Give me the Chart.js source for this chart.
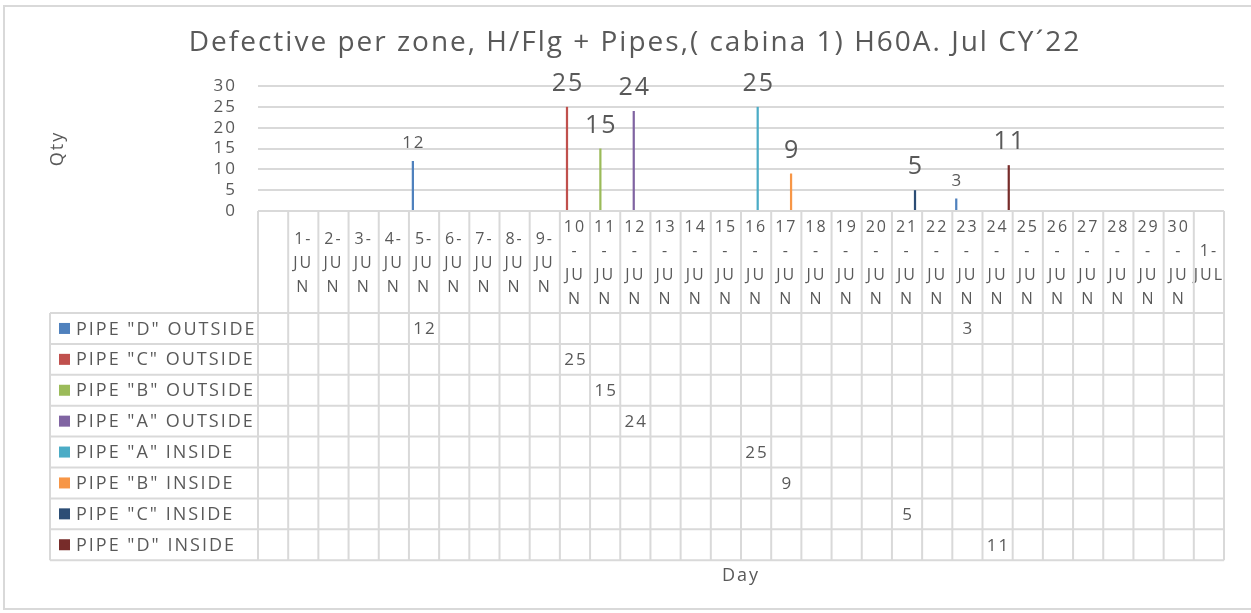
<!DOCTYPE html>
<html>
<head>
<meta charset="utf-8">
<title>Defective per zone</title>
<script src="https://cdn.jsdelivr.net/npm/chart.js@4.4.1/dist/chart.umd.min.js"></script>
<style>
  html, body { margin: 0; padding: 0; background: #fff; }
  #wrap { width: 1251px; height: 613px; }
</style>
</head>
<body>
<div id="wrap"><canvas id="defectChart" width="1251" height="613"></canvas></div>
<script>
// categories (first column is an empty one, as in the sheet)
const days = ['', '1-Jun', '2-Jun', '3-Jun', '4-Jun', '5-Jun', '6-Jun', '7-Jun', '8-Jun', '9-Jun',
  '10-Jun', '11-Jun', '12-Jun', '13-Jun', '14-Jun', '15-Jun', '16-Jun', '17-Jun', '18-Jun', '19-Jun',
  '20-Jun', '21-Jun', '22-Jun', '23-Jun', '24-Jun', '25-Jun', '26-Jun', '27-Jun', '28-Jun', '29-Jun',
  '30-Jun', '1-Jul'];

// series values (only the days with defects)
const pipeDOutside = [{ x: '5-Jun', y: 12 }, { x: '23-Jun', y: 3 }];
const pipeCOutside = [{ x: '10-Jun', y: 25 }];
const pipeBOutside = [{ x: '11-Jun', y: 15 }];
const pipeAOutside = [{ x: '12-Jun', y: 24 }];
const pipeAInside = [{ x: '16-Jun', y: 25 }];
const pipeBInside = [{ x: '17-Jun', y: 9 }];
const pipeCInside = [{ x: '21-Jun', y: 5 }];
const pipeDInside = [{ x: '24-Jun', y: 11 }];

const seriesNames = ['PIPE "D" OUTSIDE', 'PIPE "C" OUTSIDE', 'PIPE "B" OUTSIDE', 'PIPE "A" OUTSIDE',
  'PIPE "A" INSIDE', 'PIPE "B" INSIDE', 'PIPE "C" INSIDE', 'PIPE "D" INSIDE'];
const yTicks = [0, 5, 10, 15, 20, 25, 30];

const FONT = "'Open Sans', 'Noto Sans', sans-serif";
const TEXT = '#595959';
const LINE = '#d9d9d9';

// Excel 2010 palette
const colors = ['#4F81BD', '#C0504D', '#9BBB59', '#8064A2', '#4BACC6', '#F79646', '#2C4D75', '#772C2A'];
const labelSizes = [17, 25, 25, 25, 25, 25, 25, 25];
const seriesData = [pipeDOutside, pipeCOutside, pipeBOutside, pipeAOutside, pipeAInside, pipeBInside, pipeCInside, pipeDInside];

// split "10-Jun" the way the narrow cells wrap it
function wrapDay(s) {
  if (!s) return '';
  const [d, m] = s.split('-');
  if (m === 'Jul') return [d + '-', 'JUL'];
  return d.length > 1 ? [d, '-', 'JU', 'N'] : [d + '-', 'JU', 'N'];
}

// the original picture is a bit stretched, so widen all text slightly
const spacingPlugin = {
  id: 'spacing',
  beforeDraw(chart) {
    chart.ctx.letterSpacing = '2px';
  }
};

// data table under the axis + value labels above bars + outer frame
const tablePlugin = {
  id: 'dataTable',
  afterDraw(chart) {
    const { ctx, chartArea: a, scales: { x } } = chart;
    const colW = (x.right - x.left) / days.length;
    const headTop = a.bottom;
    const headBottom = a.bottom + 102;
    const rowH = 30.9;
    const legendLeft = 50;
    const tableBottom = headBottom + rowH * seriesNames.length;

    ctx.save();
    ctx.strokeStyle = LINE;
    ctx.lineWidth = 2;
    ctx.beginPath();
    for (let k = 0; k <= days.length; k++) {
      const px = x.left + k * colW;
      ctx.moveTo(px, headTop);
      ctx.lineTo(px, tableBottom);
    }
    for (let r = 0; r <= seriesNames.length; r++) {
      const py = headBottom + r * rowH;
      ctx.moveTo(legendLeft, py);
      ctx.lineTo(x.right, py);
    }
    ctx.moveTo(legendLeft, headBottom);
    ctx.lineTo(legendLeft, tableBottom);
    ctx.stroke();

    // legend keys and table values
    ctx.textBaseline = 'middle';
    ctx.font = '18px ' + FONT;
    seriesNames.forEach((name, i) => {
      const cy = headBottom + (i + 0.5) * rowH;
      ctx.fillStyle = colors[i];
      ctx.fillRect(59, cy - 5.5, 11, 11);
      ctx.fillStyle = TEXT;
      ctx.textAlign = 'left';
      ctx.fillText(name, 76, cy + 1);
      ctx.textAlign = 'center';
      ctx.font = '17px ' + FONT;
      seriesData[i].forEach(pt => {
        ctx.fillText(String(pt.y), x.getPixelForValue(days.indexOf(pt.x)) + 1, cy + 1);
      });
      ctx.font = '18px ' + FONT;
    });

    // labels above the bars
    ctx.textBaseline = 'alphabetic';
    chart.data.datasets.forEach((ds, i) => {
      const meta = chart.getDatasetMeta(i);
      ctx.font = labelSizes[i] + 'px ' + FONT;
      ctx.fillStyle = TEXT;
      meta.data.forEach((bar, j) => {
        const v = ds.data[j].y;
        ctx.fillText(String(v), bar.x + 1, bar.y - (labelSizes[i] > 20 ? 16 : 13));
      });
    });

    // chart frame
    ctx.strokeStyle = LINE;
    ctx.lineWidth = 2;
    ctx.strokeRect(4, 6, 1262, 603);
    ctx.restore();
  }
};

const ctx = document.getElementById('defectChart').getContext('2d');

const defectChart = new Chart(ctx, {
  type: 'bar',
  data: {
    labels: days,
    datasets: seriesNames.map((name, i) => ({
      label: name,
      data: seriesData[i],
      backgroundColor: colors[i],
      borderWidth: 0,
      categoryPercentage: 0.845,
      barPercentage: 0.7
    }))
  },
  options: {
    responsive: false,
    animation: false,
    layout: { padding: { left: 46, right: 27, top: 0, bottom: 12 } },
    plugins: {
      legend: { display: false },
      tooltip: { enabled: false },
      title: {
        display: true,
        text: 'Defective per zone, H/Flg + Pipes,( cabina 1) H60A. Jul CY´22',
        color: TEXT,
        font: { family: FONT, size: 28, weight: 'normal', lineHeight: 1.2 },
        padding: { top: 26, bottom: 26.4 }
      }
    },
    scales: {
      x: {
        offset: true,
        grid: { display: false, drawTicks: false },
        border: { display: false },
        ticks: {
          autoSkip: false,
          maxRotation: 0,
          minRotation: 0,
          crossAlign: 'center',
          padding: 16,
          color: TEXT,
          font: { family: FONT, size: 16, lineHeight: 1.5 },
          callback: (v, i) => wrapDay(days[i])
        },
        title: {
          display: true,
          text: 'Day',
          color: TEXT,
          font: { family: FONT, size: 18 },
          padding: { top: 0, bottom: 14 }
        },
        afterFit: s => { s.height = 390; }
      },
      y: {
        min: 0,
        max: 30,
        afterBuildTicks: s => { s.ticks = yTicks.map(v => ({ value: v })); },
        ticks: { autoSkip: false, padding: 21, color: TEXT, font: { family: FONT, size: 17 } },
        grid: { color: LINE, lineWidth: 2, drawTicks: false },
        border: { display: false },
        title: {
          display: true,
          text: 'Qty',
          color: TEXT,
          font: { family: FONT, size: 18 },
          padding: { top: 1, bottom: 0 }
        },
        afterFit: s => { s.width = 212; }
      }
    }
  },
  plugins: [spacingPlugin, tablePlugin]
});
</script>
</body>
</html>
